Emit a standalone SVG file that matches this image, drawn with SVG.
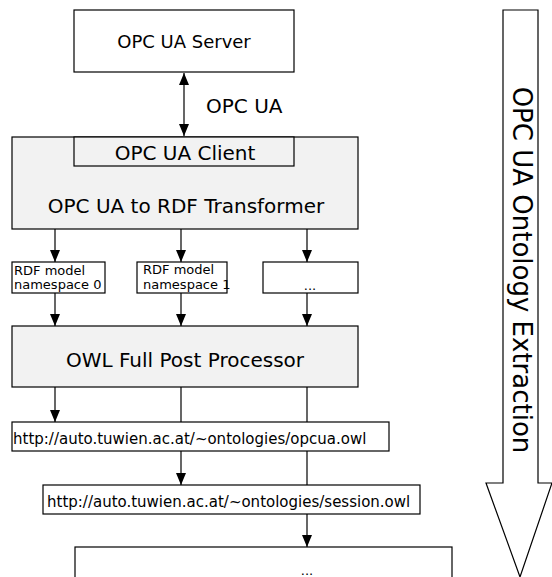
<svg xmlns="http://www.w3.org/2000/svg" width="552" height="577" viewBox="0 0 552 577">
<defs>
<style>
.box{fill:#fff;stroke:#000;stroke-width:1.2}
.gray{fill:#f2f2f2;stroke:#000;stroke-width:1.2}
.t{font-family:"DejaVu Sans",sans-serif;fill:#000}
.c{stroke:#000;stroke-width:1.2;fill:none}
</style>
<marker id="ah" markerWidth="12" markerHeight="10" refX="12" refY="5" orient="auto" markerUnits="userSpaceOnUse" viewBox="0 0 12 10">
<path d="M0,0 L12,5 L0,10 Z" fill="#000"/>
</marker>
<marker id="as" markerWidth="12" markerHeight="10" refX="0" refY="5" orient="auto" markerUnits="userSpaceOnUse" viewBox="0 0 12 10">
<path d="M12,0 L0,5 L12,10 Z" fill="#000"/>
</marker>
</defs>
<rect width="552" height="577" fill="#fff"/>
<g id="connectors">
<line class="c" x1="184" y1="73" x2="184" y2="136" marker-start="url(#as)" marker-end="url(#ah)"/>
<line class="c" x1="55" y1="229" x2="55" y2="262" marker-end="url(#ah)"/>
<line class="c" x1="181" y1="229" x2="181" y2="262" marker-end="url(#ah)"/>
<line class="c" x1="307" y1="229" x2="307" y2="262" marker-end="url(#ah)"/>
<line class="c" x1="55" y1="293" x2="55" y2="326" marker-end="url(#ah)"/>
<line class="c" x1="181" y1="293" x2="181" y2="326" marker-end="url(#ah)"/>
<line class="c" x1="307" y1="293" x2="307" y2="326" marker-end="url(#ah)"/>
<line class="c" x1="55" y1="387" x2="55" y2="422" marker-end="url(#ah)"/>
<line class="c" x1="181" y1="387" x2="181" y2="422"/>
<line class="c" x1="307" y1="387" x2="307" y2="422"/>
<line class="c" x1="181" y1="451" x2="181" y2="485" marker-end="url(#ah)"/>
<line class="c" x1="307" y1="451" x2="307" y2="485"/>
<line class="c" x1="307" y1="514" x2="307" y2="547" marker-end="url(#ah)"/>
</g>
<text class="t" x="206" y="113" font-size="20">OPC UA</text>
<g id="server">
<rect class="box" x="74" y="10" width="220" height="62"/>
<text class="t" x="184" y="48" font-size="18" text-anchor="middle">OPC UA Server</text>
</g>
<g id="transformer">
<rect class="gray" x="12" y="137" width="346" height="92"/>
<text class="t" x="186" y="213" font-size="20" text-anchor="middle">OPC UA to RDF Transformer</text>
</g>
<g id="client">
<rect class="gray" x="74" y="137" width="220" height="29"/>
<text class="t" x="185" y="160" font-size="20" text-anchor="middle">OPC UA Client</text>
</g>
<g id="rdf0">
<rect class="box" x="12" y="262" width="93" height="31"/>
<text class="t" x="14" y="275" font-size="13">RDF model</text>
<text class="t" x="14" y="289" font-size="13">namespace 0</text>
</g>
<g id="rdf1">
<rect class="box" x="137" y="262" width="90" height="31"/>
<text class="t" x="143" y="274" font-size="13">RDF model</text>
<text class="t" x="143" y="289" font-size="13">namespace 1</text>
</g>
<g id="rdfn">
<rect class="box" x="263" y="262" width="95" height="31"/>
<text class="t" x="310" y="290" font-size="13" text-anchor="middle">...</text>
</g>
<g id="owl">
<rect class="gray" x="12" y="326" width="346" height="61"/>
<text class="t" x="185" y="367" font-size="20" text-anchor="middle">OWL Full Post Processor</text>
</g>
<g id="opcua-owl">
<rect class="box" x="12" y="422" width="377" height="29"/>
<text class="t" x="13" y="444" font-size="15">http://auto.tuwien.ac.at/~ontologies/opcua.owl</text>
</g>
<g id="session-owl">
<rect class="box" x="43" y="485" width="377" height="29"/>
<text class="t" x="47" y="507" font-size="15">http://auto.tuwien.ac.at/~ontologies/session.owl</text>
</g>
<g id="more">
<rect class="box" x="75" y="547" width="377" height="40"/>
<text class="t" x="307" y="575" font-size="13" text-anchor="middle">...</text>
</g>
<g id="extraction">
<path class="box" d="M503,10 L538,10 L538,483 L552,483 L520,577 L486,483 L503,483 Z"/>
<text class="t" transform="translate(513,270) rotate(90)" font-size="26" text-anchor="middle">OPC UA Ontology Extraction</text>
</g>
</svg>
